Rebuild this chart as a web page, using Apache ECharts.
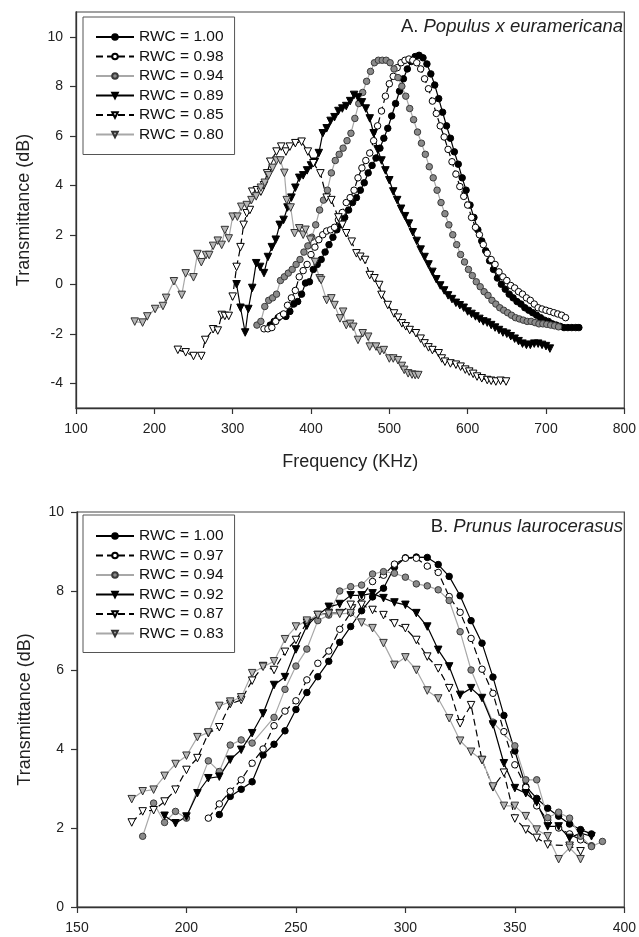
<!DOCTYPE html>
<html><head><meta charset="utf-8">
<script src="https://cdn.jsdelivr.net/npm/echarts@6/dist/echarts.min.js"></script>
<style>html,body{margin:0;padding:0;background:#fff}#c{width:639px;height:937px}</style>
</head><body><div id="c"></div>
<script>
// ---------- Panel A: Populus x euramericana ----------
const A_xTicks = [100, 200, 300, 400, 500, 600, 700, 800];
const A_yTicks = [-4, -2, 0, 2, 4, 6, 8, 10];
const A_names = ['RWC = 1.00', 'RWC = 0.98', 'RWC = 0.94', 'RWC = 0.89', 'RWC = 0.85', 'RWC = 0.80'];
const A_100 = [[348,-1.65],[353,-1.5],[358,-1.35],[363,-1.25],[368,-1.3],[373,-1.1],[378,-0.8],[383,-0.7],[388,-0.4],[393,0.05],[398,0.1],[403,0.6],[408,0.8],[413,1.0],[418,1.3],[423,1.6],[428,1.9],[433,2.2],[438,2.4],[443,2.7],[448,3.0],[453,3.3],[458,3.5],[463,3.8],[468,4.1],[473,4.5],[478,4.8],[483,5.1],[488,5.5],[493,5.9],[498,6.3],[503,6.8],[508,7.3],[513,7.8],[518,8.3],[523,8.7],[528,9.0],[533,9.2],[538,9.25],[543,9.15],[548,8.9],[553,8.5],[558,8.05],[563,7.5],[568,6.95],[573,6.4],[578,5.9],[583,5.35],[588,4.85],[593,4.3],[598,3.8],[603,3.2],[608,2.7],[613,2.2],[618,1.75],[623,1.35],[628,0.95],[633,0.6],[638,0.25],[643,0.0],[648,-0.2],[653,-0.4],[658,-0.55],[663,-0.7],[668,-0.8],[673,-0.95],[678,-1.05],[683,-1.15],[688,-1.25],[693,-1.35],[698,-1.45],[703,-1.5],[708,-1.6],[713,-1.65],[718,-1.7],[723,-1.75],[728,-1.75],[733,-1.75],[738,-1.75],[742,-1.75]];
const A_098 = [[340,-1.8],[345,-1.8],[350,-1.75],[355,-1.5],[360,-1.3],[365,-1.2],[370,-0.85],[375,-0.55],[380,-0.25],[385,0.3],[390,0.55],[395,0.8],[400,1.2],[405,1.5],[410,1.8],[415,2.0],[420,2.15],[425,2.2],[430,2.3],[435,2.6],[440,2.9],[445,3.3],[450,3.5],[455,3.8],[460,4.3],[465,4.7],[470,5.0],[475,5.3],[480,5.8],[485,6.4],[490,7.0],[495,7.6],[500,8.1],[505,8.4],[510,8.75],[515,8.95],[520,9.05],[525,9.1],[530,9.05],[535,8.95],[540,8.7],[545,8.3],[550,7.9],[555,7.4],[560,6.9],[565,6.4],[570,5.95],[575,5.45],[580,4.95],[585,4.45],[590,3.95],[595,3.55],[600,3.2],[605,2.7],[610,2.3],[615,2.0],[620,1.6],[625,1.25],[630,1.0],[635,0.8],[640,0.5],[645,0.3],[650,0.15],[655,-0.05],[660,-0.15],[665,-0.3],[670,-0.4],[675,-0.55],[680,-0.65],[685,-0.8],[690,-0.95],[695,-1.0],[700,-1.05],[705,-1.1],[710,-1.15],[715,-1.2],[720,-1.25],[725,-1.35]];
const A_094 = [[331,-1.65],[336,-1.5],[341,-0.9],[346,-0.65],[351,-0.55],[356,-0.4],[361,0.15],[366,0.3],[371,0.45],[376,0.6],[381,0.8],[386,1.0],[391,1.3],[396,1.55],[401,1.9],[406,2.4],[411,3.0],[416,3.4],[421,3.8],[426,4.5],[431,5.0],[436,5.25],[441,5.5],[446,5.8],[451,6.1],[456,6.7],[461,7.3],[466,7.75],[471,8.2],[476,8.6],[481,8.95],[486,9.05],[491,9.05],[496,9.05],[501,8.95],[506,8.7],[511,8.35],[516,8.0],[521,7.6],[526,7.1],[531,6.65],[536,6.15],[541,5.7],[546,5.25],[551,4.75],[556,4.3],[561,3.8],[566,3.3],[571,2.85],[576,2.4],[581,2.0],[586,1.6],[591,1.2],[596,0.9],[601,0.6],[606,0.35],[611,0.1],[616,-0.1],[621,-0.3],[626,-0.45],[631,-0.65],[636,-0.8],[641,-0.95],[646,-1.05],[651,-1.15],[656,-1.25],[661,-1.35],[666,-1.4],[671,-1.45],[676,-1.5],[681,-1.5],[686,-1.55],[691,-1.6],[696,-1.6],[701,-1.62],[706,-1.65],[711,-1.68],[716,-1.72]];
const A_089 = [[305,0.0],[310,-0.95],[316,-1.95],[320,-1.0],[325,-0.15],[330,0.85],[335,0.7],[340,0.45],[345,1.1],[350,1.5],[355,1.8],[360,2.4],[365,2.6],[370,3.1],[375,3.5],[380,3.9],[385,4.3],[390,4.4],[395,4.6],[400,4.8],[405,4.95],[410,5.3],[415,6.1],[420,6.3],[425,6.6],[430,6.75],[435,7.0],[440,7.1],[445,7.2],[450,7.4],[455,7.65],[460,7.55],[465,7.35],[470,7.1],[475,6.7],[480,6.1],[485,5.45],[490,5.0],[495,4.6],[500,4.2],[505,3.75],[510,3.4],[515,3.05],[520,2.75],[525,2.45],[530,2.1],[535,1.75],[540,1.4],[545,1.1],[550,0.8],[555,0.5],[560,0.2],[565,-0.05],[570,-0.25],[575,-0.45],[580,-0.6],[585,-0.75],[590,-0.85],[595,-0.95],[600,-1.1],[605,-1.2],[610,-1.3],[615,-1.4],[620,-1.5],[625,-1.55],[630,-1.65],[635,-1.75],[640,-1.85],[645,-1.95],[650,-2.0],[655,-2.1],[660,-2.2],[665,-2.3],[670,-2.4],[675,-2.45],[680,-2.45],[685,-2.4],[690,-2.4],[695,-2.45],[700,-2.5],[705,-2.6]];
const A_085 = [[230,-2.65],[240,-2.75],[250,-2.9],[260,-2.9],[265,-2.25],[275,-1.82],[281,-1.87],[286,-1.24],[290,-1.28],[295,-1.28],[300,-0.5],[305,0.7],[310,1.5],[314,2.4],[318,2.87],[322,3.0],[325,3.74],[331,3.8],[336,3.74],[340,4.0],[344,4.48],[348,4.95],[356,5.36],[362,5.56],[368,5.36],[373,5.56],[380,5.7],[388,5.76],[396,5.36],[403,4.89],[412,4.48],[420,3.5],[426,3.4],[435,2.7],[440,2.4],[445,2.06],[452,1.72],[458,1.25],[463,1.11],[469,0.98],[475,0.37],[481,0.24],[487,-0.03],[490,-0.43],[498,-0.84],[506,-1.18],[511,-1.35],[516,-1.58],[521,-1.7],[526,-1.85],[534,-1.98],[540,-2.2],[545,-2.39],[550,-2.55],[555,-2.66],[563,-2.79],[567,-3.0],[571,-3.13],[578,-3.2],[585,-3.25],[591,-3.33],[597,-3.45],[602,-3.53],[607,-3.62],[612,-3.73],[618,-3.8],[625,-3.87],[630,-3.9],[636,-3.93],[642,-3.9],[649,-3.93]];
const A_080 = [[175,-1.51],[185,-1.55],[191,-1.3],[201,-1.0],[211,-0.88],[215,-0.55],[225,0.12],[235,-0.43],[240,0.44],[250,0.28],[255,1.22],[260,0.89],[266,1.18],[270,1.18],[275,1.55],[281,1.76],[286,1.59],[290,2.19],[295,1.85],[300,2.73],[306,2.73],[311,3.13],[318,3.2],[324,3.4],[330,3.55],[336,3.9],[341,4.1],[346,4.4],[351,4.7],[356,5.0],[361,5.0],[366,4.5],[369,3.4],[374,3.1],[379,2.06],[385,2.26],[390,2.0],[393,2.2],[399,1.8],[405,0.9],[411,0.24],[413,0.17],[420,-0.64],[426,-0.57],[430,-0.84],[437,-1.38],[441,-1.11],[445,-1.65],[450,-1.6],[454,-1.72],[460,-2.25],[466,-1.98],[473,-2.12],[475,-2.52],[483,-2.52],[488,-2.7],[493,-2.66],[500,-3.0],[505,-3.0],[511,-3.07],[516,-3.3],[519,-3.46],[524,-3.6],[529,-3.65],[533,-3.67],[537,-3.67]];

// ---------- Panel B: Prunus laurocerasus ----------
const B_xTicks = [150, 200, 250, 300, 350, 400];
const B_yTicks = [0, 2, 4, 6, 8, 10];
const B_names = ['RWC = 1.00', 'RWC = 0.97', 'RWC = 0.94', 'RWC = 0.92', 'RWC = 0.87', 'RWC = 0.83'];
const B_100 = [[215,2.34],[220,2.8],[225,2.98],[230,3.17],[235,3.85],[240,4.12],[245,4.46],[250,5.0],[255,5.43],[260,5.83],[265,6.22],[270,6.7],[275,7.1],[280,7.5],[285,7.85],[290,8.07],[295,8.6],[300,8.84],[305,8.86],[310,8.85],[315,8.67],[320,8.37],[325,7.88],[330,7.25],[335,6.68],[340,5.82],[345,4.85],[350,3.95],[355,3.05],[360,2.75],[365,2.5],[370,2.3],[375,2.1],[380,1.96],[385,1.85]];
const B_097 = [[210,2.25],[215,2.61],[220,2.93],[225,3.22],[230,3.64],[235,4.0],[240,4.59],[245,4.96],[250,5.22],[255,5.75],[260,6.17],[265,6.48],[270,7.03],[275,7.45],[280,7.85],[285,8.24],[290,8.4],[295,8.68],[300,8.83],[305,8.83],[310,8.63],[315,8.47],[320,7.86],[325,7.46],[330,6.8],[335,6.02],[340,5.41],[345,4.44],[350,3.6],[355,3.03],[360,2.56],[365,2.2],[370,2.0],[375,1.85],[380,1.7],[385,1.55]];
const B_094 = [[180,1.79],[185,2.63],[190,2.14],[195,2.42],[200,2.25],[210,3.7],[215,3.43],[220,4.1],[225,4.23],[230,4.15],[240,4.8],[245,5.51],[250,6.1],[255,6.53],[260,7.25],[265,7.39],[270,8.0],[275,8.11],[280,8.15],[285,8.43],[290,8.49],[295,8.45],[300,8.35],[305,8.18],[310,8.13],[315,8.03],[320,7.76],[325,6.97],[330,6.0],[340,4.68],[350,4.08],[355,3.22],[360,3.22],[365,2.26],[370,2.4],[375,2.25],[380,1.79],[385,1.53],[390,1.66]];
const B_092 = [[190,2.31],[195,2.12],[200,2.29],[205,2.88],[210,3.26],[215,3.3],[220,3.73],[225,3.98],[230,4.4],[235,4.9],[240,5.62],[245,5.82],[250,6.52],[255,7.12],[260,7.39],[265,7.6],[270,7.67],[275,7.89],[280,7.89],[285,7.94],[290,7.82],[295,7.71],[300,7.65],[305,7.44],[310,7.1],[315,6.51],[320,6.09],[325,5.37],[330,5.54],[335,5.29],[340,4.62],[345,3.64],[350,3.01],[355,2.88],[360,2.65],[365,2.04],[370,2.04],[375,1.75],[380,1.87],[385,1.79]];
const B_087 = [[175,2.14],[180,2.42],[185,2.45],[190,2.67],[195,2.97],[200,3.47],[205,3.77],[210,4.4],[215,4.55],[220,5.14],[225,5.24],[230,5.73],[235,6.1],[240,6.0],[245,6.46],[250,6.76],[255,7.2],[260,7.39],[265,7.44],[270,7.44],[275,7.65],[280,7.65],[285,7.52],[290,7.39],[295,7.18],[300,7.06],[305,6.76],[310,6.34],[315,6.04],[320,5.54],[325,4.65],[330,5.11],[335,3.72],[340,3.03],[345,3.4],[350,2.24],[355,1.96],[360,1.75],[365,1.58],[375,1.55],[380,1.41]];
const B_083 = [[175,2.73],[180,2.93],[185,2.97],[190,3.32],[195,3.62],[200,3.83],[205,4.3],[210,4.42],[215,5.09],[220,5.2],[225,5.31],[230,5.92],[235,6.08],[240,6.22],[245,6.78],[250,7.1],[255,7.25],[260,7.39],[265,7.42],[270,7.42],[275,7.44],[280,7.2],[285,7.06],[290,6.68],[295,6.13],[300,6.32],[305,6.0],[310,5.48],[315,5.28],[320,4.78],[325,4.21],[330,3.93],[335,3.72],[340,3.05],[345,2.56],[350,2.56],[355,2.3],[360,1.96],[365,1.79],[370,1.21],[375,1.5],[380,1.21]];

// ---------- styles ----------
const FONT = 'Liberation Sans, Arial, sans-serif';
const ST = {
  blackCircle: {symbol:'circle', rot:0, fill:'#000', border:'#000', line:'#000', dash:'solid'},
  openCircle:  {symbol:'circle', rot:0, fill:'#fff', border:'#000', line:'#000', dash:[7,4]},
  grayCircle:  {symbol:'circle', rot:0, fill:'#8a8a8a', border:'#3a3a3a', line:'#a8a8a8', dash:'solid'},
  blackTri:    {symbol:'triangle', rot:180, fill:'#000', border:'#000', line:'#000', dash:'solid'},
  openTri:     {symbol:'triangle', rot:180, fill:'#fff', border:'#000', line:'#000', dash:[7,4]},
  grayTri:     {symbol:'triangle', rot:180, fill:'#b5b5b5', border:'#333', line:'#a8a8a8', dash:'solid'}
};
const order = ['blackCircle','openCircle','grayCircle','blackTri','openTri','grayTri'];

function mk(name, data, idx, st) {
  const s = ST[st];
  return {
    type:'line', name, data, xAxisIndex: idx, yAxisIndex: idx,
    symbol: s.symbol, symbolRotate: s.rot, symbolSize: s.symbol === 'circle' ? 6.5 : 7.5,
    showSymbol: true,
    lineStyle: {color: s.line, width: 1.2, type: s.dash},
    itemStyle: {color: s.fill, borderColor: s.border, borderWidth: 1},
    emphasis: {disabled: true}, animation: false
  };
}
const A_data = [A_100, A_098, A_094, A_089, A_085, A_080];
const B_data = [B_100, B_097, B_094, B_092, B_087, B_083];
const series = [];
A_data.forEach((d, i) => series.push(mk(A_names[i], d, 0, order[i])));
B_data.forEach((d, i) => series.push(mk(B_names[i], d, 1, order[i])));

const axisCommon = {
  axisLine: {show: true, onZero: false, lineStyle: {color: '#333', width: 1.3}},
  axisTick: {show: true, inside: false, length: 6, lineStyle: {color: '#333', width: 1.2}},
  splitLine: {show: false},
  axisLabel: {fontSize: 14, fontFamily: FONT, color: '#222'}
};
function legend(names, top, pad) {
  return {
    data: names, orient: 'vertical', left: 83, top: top,
    itemWidth: 38, itemHeight: 7, itemGap: 3.5, padding: pad,
    borderColor: '#555', borderWidth: 1, backgroundColor: '#fff',
    selectedMode: false,
    textStyle: {fontSize: 15.5, fontFamily: FONT, color: '#111', lineHeight: 15}
  };
}
const NAME_STYLE = {fontSize: 18, fontFamily: FONT, color: '#222'};
const chart = echarts.init(document.getElementById('c'), null, {renderer: 'canvas'});
chart.setOption({
  animation: false,
  grid: [
    {left: 76, top: 12, width: 551, height: 396, show: true, borderColor: '#444', borderWidth: 1.2},
    {left: 77, top: 512, width: 550, height: 395, show: true, borderColor: '#444', borderWidth: 1.2}
  ],
  xAxis: [
    Object.assign({}, axisCommon, {type:'value', gridIndex:0, min: A_xTicks[0], max: A_xTicks[A_xTicks.length-1], interval: 100,
      axisLabel: Object.assign({}, axisCommon.axisLabel, {margin: 14}),
      name: 'Frequency (KHz)', nameLocation: 'middle', nameGap: 45, nameTextStyle: NAME_STYLE}),
    Object.assign({}, axisCommon, {type:'value', gridIndex:1, min: B_xTicks[0], max: B_xTicks[B_xTicks.length-1], interval: 50,
      axisLabel: Object.assign({}, axisCommon.axisLabel, {margin: 14})})
  ],
  yAxis: [
    Object.assign({}, axisCommon, {type:'value', gridIndex:0, min: -5, max: 11,
      axisLabel: Object.assign({}, axisCommon.axisLabel, {customValues: A_yTicks, margin: 13}),
      axisTick: Object.assign({}, axisCommon.axisTick, {customValues: A_yTicks}),
      name: 'Transmittance (dB)', nameLocation: 'middle', nameGap: 43, nameRotate: 90, nameTextStyle: NAME_STYLE}),
    Object.assign({}, axisCommon, {type:'value', gridIndex:1, min: B_yTicks[0], max: B_yTicks[B_yTicks.length-1], interval: 2,
      axisLabel: Object.assign({}, axisCommon.axisLabel, {margin: 13}),
      name: 'Transmittance (dB)', nameLocation: 'middle', nameGap: 43, nameRotate: 90, nameTextStyle: NAME_STYLE})
  ],
  legend: [legend(A_names, 17, [12, 11, 12, 12]), legend(B_names, 515, [13, 11, 11, 12])],
  graphic: [
    {type:'text', x: 623, y: 27, style: {text: '{n|A. }{i|Populus x euramericana}', align: 'right', verticalAlign: 'middle',
      rich: {n: {fontSize: 18.5, fontFamily: FONT, fill: '#222'}, i: {fontSize: 18.5, fontFamily: FONT, fontStyle: 'italic', fill: '#222'}}}},
    {type:'text', x: 623, y: 527, style: {text: '{n|B. }{i|Prunus laurocerasus}', align: 'right', verticalAlign: 'middle',
      rich: {n: {fontSize: 18.5, fontFamily: FONT, fill: '#222'}, i: {fontSize: 18.5, fontFamily: FONT, fontStyle: 'italic', fill: '#222'}}}}
  ],
  series: series
});
</script></body></html>
